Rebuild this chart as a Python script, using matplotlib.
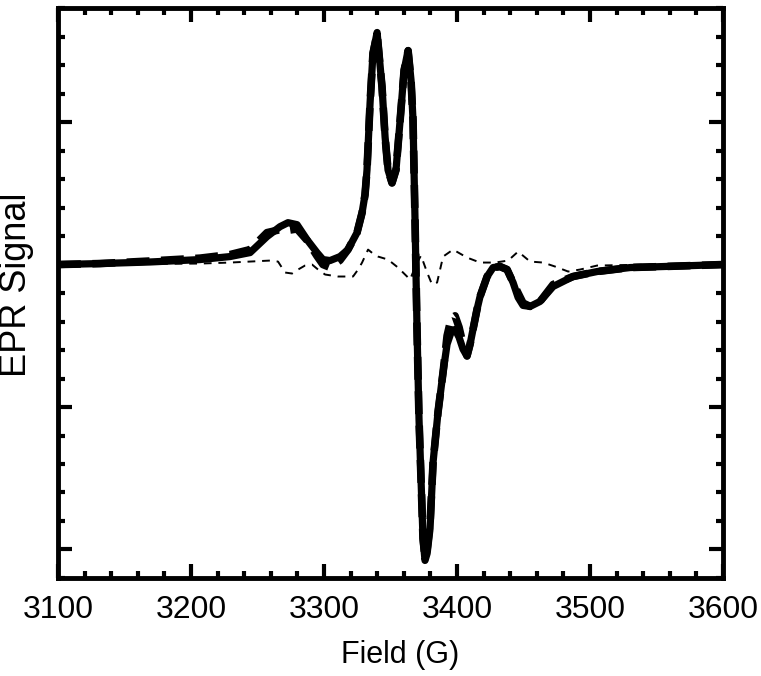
import numpy as np
import matplotlib.pyplot as plt
from matplotlib.ticker import MultipleLocator, NullFormatter

plt.rcParams['font.family'] = ['Liberation Sans', 'DejaVu Sans']

# experimental spectrum (solid)
field_exp = [3100, 3131.6, 3169.2, 3206.8, 3229.3, 3244.4, 3257.1, 3266.9, 3272.9, 3279.7,
             3287.2, 3294.7, 3299.2, 3304.5, 3312.0, 3318.0, 3324.8, 3328.6, 3330.8, 3332.3,
             3334.6, 3336.8, 3339.9, 3343.6, 3345.9, 3348.1, 3351.1, 3354.1, 3357.2, 3360.2,
             3363.2, 3365.4, 3366.9, 3368.4, 3369.9, 3371.4, 3372.9, 3374.4, 3375.9, 3377.5,
             3379.7, 3382.0, 3385.7, 3389.5, 3392.5, 3395.5, 3398.5, 3401.5, 3404.5, 3407.5,
             3409.8, 3412.0, 3415.0, 3417.3, 3422.6, 3427.1, 3432.3, 3437.6, 3442.1, 3445.9,
             3449.6, 3454.9, 3462.4, 3472.2, 3487.2, 3505.3, 3530.1, 3554.9, 3600]
signal_exp = [0.0, 0.007, 0.018, 0.035, 0.056, 0.084, 0.196, 0.266, 0.294, 0.280,
              0.175, 0.084, 0.035, 0.028, 0.056, 0.105, 0.224, 0.364, 0.490, 0.664,
              1.133, 1.483, 1.629, 1.245, 0.895, 0.664, 0.573, 0.664, 1.014, 1.364,
              1.503, 1.294, 1.014, 0.315, -0.455, -1.084, -1.503, -1.923, -2.077, -2.028,
              -1.853, -1.385, -1.035, -0.755, -0.559, -0.476, -0.455, -0.510, -0.594, -0.643,
              -0.559, -0.455, -0.315, -0.224, -0.084, -0.021, -0.014, -0.035, -0.126, -0.231,
              -0.287, -0.294, -0.259, -0.154, -0.084, -0.049, -0.021, -0.014, 0.0]

# simulated spectrum (thick dashed)
field_sim = field_exp
signal_sim = [0.0, 0.007, 0.025, 0.045, 0.070, 0.105, 0.224, 0.245, 0.240, 0.250,
              0.170, 0.060, 0.000, -0.020, 0.030, 0.105, 0.224, 0.364, 0.490, 0.664,
              1.133, 1.483, 1.620, 1.245, 0.895, 0.664, 0.573, 0.664, 1.014, 1.364,
              1.500, 1.294, 1.014, 0.315, -0.455, -1.084, -1.503, -1.923, -2.060, -2.000,
              -1.820, -1.385, -1.035, -0.755, -0.500, -0.380, -0.360, -0.440, -0.560, -0.640,
              -0.559, -0.455, -0.315, -0.224, -0.084, -0.021, -0.014, -0.035, -0.126, -0.200,
              -0.270, -0.294, -0.259, -0.140, -0.084, -0.049, -0.021, -0.014, 0.0]

# residual (thin dashed)
field_res = [3100, 3206.8, 3229.3, 3244.4, 3259.4, 3265.4, 3270.7, 3276.0, 3280.5, 3285.7,
             3291.0, 3295.5, 3300.8, 3310.5, 3321.8, 3325.6, 3328.6, 3333.1, 3336.8, 3340.6,
             3348.1, 3355.6, 3360.9, 3364.7, 3369.2, 3372.9, 3377.5, 3381.2, 3385.0, 3389.5,
             3397.0, 3407.5, 3417.3, 3428.6, 3438.4, 3445.9, 3454.9, 3464.7, 3473.7, 3483.5,
             3492.5, 3505.3, 3545.1, 3600]
signal_res = [0.0, 0.007, 0.014, 0.021, 0.028, 0.021, -0.056, -0.063, -0.035, -0.007,
              0.0, -0.035, -0.070, -0.084, -0.084, -0.035, 0.014, 0.105, 0.077, 0.056,
              0.035, -0.021, -0.070, -0.105, 0.0, 0.063, -0.056, -0.140, -0.126, 0.056,
              0.105, 0.049, 0.014, 0.014, 0.028, 0.091, 0.021, 0.014, -0.014, -0.049,
              -0.035, -0.007, 0.0, 0.0]

fig = plt.figure(figsize=(7.61, 6.76), dpi=100)
ax = fig.add_axes([0.0762, 0.145, 0.874, 0.843])

ax.plot(field_res, signal_res, color='black', lw=1.4, linestyle=(0, (4, 3.5)))
ax.plot(field_sim, signal_sim, color='black', lw=5.5, linestyle=(0, (3, 1.5)))
ax.plot(field_exp, signal_exp, color='black', lw=5.2, solid_joinstyle='round')

ax.set_xlim(3100, 3600)
ax.set_ylim(-2.2, 1.8)
ax.xaxis.set_major_locator(MultipleLocator(100))
ax.xaxis.set_minor_locator(MultipleLocator(20))
ax.yaxis.set_major_locator(MultipleLocator(1))
ax.yaxis.set_minor_locator(MultipleLocator(0.2))
ax.yaxis.set_major_formatter(NullFormatter())

for side in ax.spines.values():
    side.set_linewidth(3.5)
ax.tick_params(which='both', direction='in', top=True, right=True, width=3)
ax.tick_params(which='major', length=10, labelsize=23, pad=12)
ax.tick_params(which='minor', length=5)

ax.set_xlabel('Field (G)', fontsize=22)
ax.set_ylabel('EPR Signal', fontsize=26)
ax.xaxis.set_label_coords(0.514, -0.108)
ax.yaxis.set_label_coords(-0.036, 0.515)

fig.savefig('out.png', dpi=100)
